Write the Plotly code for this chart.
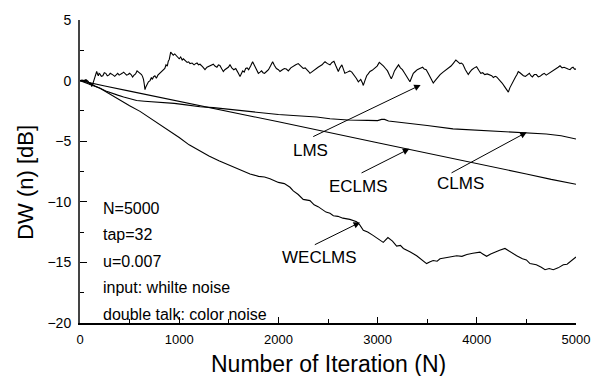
import plotly.graph_objects as go

# ---------------- data ----------------
lms_pts = [
    (0, 0.0), (20, 0.05), (40, 0.0), (60, 0.08), (80, -0.05), (100, -0.3), (110, -0.2), (118, -0.5), (130, -0.25), (140, 0.0),
    (155, 0.35), (168, 0.75), (178, 0.5), (185, 0.4), (192, 0.6), (200, 0.55), (215, 0.35), (230, 0.4), (245, 0.65), (260, 0.6),
    (275, 0.4), (290, 0.45), (305, 0.6), (320, 0.55), (335, 0.45), (350, 0.35), (365, 0.5), (380, 0.6), (395, 0.45), (410, 0.5),
    (425, 0.6), (440, 0.7), (455, 0.55), (470, 0.45), (485, 0.5), (500, 0.6), (515, 0.5), (530, 0.3), (545, 0.45), (560, 0.55),
    (575, 0.8), (590, 0.7), (605, 0.6), (620, 0.5), (630, 0.35), (640, 0.1), (648, -0.3), (655, -0.75), (665, -0.5), (675, -0.3),
    (690, -0.1), (706, 0.0), (720, 0.25), (730, 0.1), (740, 0.3), (755, 0.4), (770, 0.2), (785, 0.45), (806, 0.6), (820, 0.7),
    (840, 0.9), (855, 1.0), (867, 1.3), (880, 1.2), (890, 1.6), (900, 1.75), (914, 2.35), (925, 2.25), (940, 2.1), (955, 2.2),
    (974, 2.0), (988, 1.85), (1000, 1.8), (1015, 1.95), (1030, 1.7), (1042, 1.8), (1060, 1.65), (1080, 1.5), (1095, 1.55), (1109, 1.4),
    (1130, 1.45), (1150, 1.3), (1165, 1.4), (1180, 1.45), (1195, 1.3), (1210, 1.35), (1235, 1.15), (1260, 0.9), (1280, 1.1), (1300, 1.2),
    (1320, 1.3), (1344, 1.35), (1360, 1.2), (1380, 1.1), (1395, 1.3), (1410, 1.25), (1430, 0.95), (1445, 0.75), (1460, 0.9), (1480, 1.0),
    (1495, 1.1), (1512, 1.3), (1530, 1.05), (1550, 0.9), (1570, 1.0), (1590, 0.7), (1600, 0.5), (1613, 0.33), (1625, 0.55), (1640, 0.8),
    (1655, 0.7), (1670, 1.0), (1685, 1.05), (1700, 0.9), (1720, 1.2), (1740, 1.55), (1755, 1.3), (1770, 1.0), (1785, 0.8), (1798, 0.6),
    (1815, 0.7), (1830, 0.8), (1845, 0.65), (1860, 0.6), (1880, 0.75), (1900, 0.9), (1920, 1.2), (1942, 1.55), (1960, 1.25), (1980, 1.0),
    (2000, 0.9), (2016, 0.75), (2040, 0.9), (2060, 1.0), (2080, 0.95), (2100, 0.8), (2125, 1.05), (2150, 1.2), (2175, 1.3), (2200, 1.4),
    (2225, 1.2), (2250, 1.0), (2270, 1.05), (2290, 0.9), (2305, 0.75), (2318, 0.6), (2340, 0.75), (2360, 0.9), (2380, 1.0), (2400, 1.1),
    (2420, 1.2), (2440, 1.3), (2455, 1.45), (2470, 1.55), (2495, 1.4), (2520, 1.3), (2540, 1.5), (2560, 1.6), (2580, 1.2), (2604, 0.75),
    (2620, 1.05), (2640, 1.3), (2655, 0.95), (2670, 0.6), (2695, 0.7), (2720, 0.8), (2740, 0.7), (2760, 0.5), (2785, 0.2), (2806, -0.1),
    (2818, 0.05), (2830, 0.1), (2845, -0.15), (2856, -0.4), (2872, 0.0), (2890, 0.4), (2905, 0.55), (2923, 0.75), (2945, 0.85), (2970, 1.0),
    (2995, 1.2), (3017, 1.5), (3040, 1.35), (3060, 1.2), (3080, 1.0), (3100, 0.8), (3120, 0.45), (3138, 0.15), (3155, 0.45), (3170, 0.8),
    (3190, 1.05), (3211, 1.3), (3230, 1.05), (3250, 0.9), (3270, 0.65), (3290, 0.4), (3310, 0.1), (3326, -0.1), (3345, 0.3), (3360, 0.6),
    (3380, 0.75), (3400, 0.9), (3425, 1.0), (3454, 1.1), (3470, 0.95), (3490, 0.9), (3510, 0.6), (3530, 0.3), (3545, 0.0), (3561, -0.2),
    (3580, 0.0), (3600, 0.2), (3615, 0.4), (3630, 0.5), (3660, 0.7), (3695, 0.9), (3715, 1.0), (3740, 1.2), (3765, 1.45), (3789, 1.7),
    (3810, 1.55), (3830, 1.4), (3845, 1.45), (3860, 1.35), (3885, 0.9), (3914, 0.5), (3930, 0.7), (3950, 0.9), (3975, 1.05), (3998, 1.15),
    (4020, 0.85), (4040, 0.6), (4060, 0.65), (4080, 0.5), (4105, 0.55), (4130, 0.45), (4150, 0.4), (4167, 0.25), (4185, 0.35), (4200, 0.3),
    (4218, 0.15), (4234, 0.0), (4255, -0.2), (4280, -0.5), (4300, -0.7), (4318, -0.95), (4333, -0.6), (4350, -0.3), (4370, 0.0), (4390, 0.3),
    (4405, 0.5), (4418, 0.75), (4435, 0.65), (4450, 0.55), (4470, 0.4), (4490, 0.35), (4510, 0.5), (4530, 0.6), (4545, 0.4), (4560, 0.3),
    (4580, 0.5), (4600, 0.5), (4620, 0.3), (4637, 0.35), (4660, 0.5), (4680, 0.6), (4700, 0.45), (4720, 0.55), (4740, 0.65), (4760, 0.75),
    (4780, 0.85), (4800, 1.0), (4820, 1.1), (4839, 1.22), (4860, 1.05), (4880, 1.1), (4900, 1.0), (4920, 0.95), (4940, 0.9), (4955, 1.05),
    (4970, 1.1), (4985, 0.95), (5000, 0.95),
]
lms_x = [p[0] for p in lms_pts]
lms_y = [p[1] for p in lms_pts]

clms_x = [0, 50, 100, 150, 202, 260, 320, 380, 440, 504, 571, 650, 750, 850, 950, 1050, 1150, 1210, 1344, 1500,
          1714, 1882, 2000, 2150, 2386, 2520, 2700, 2900, 3000, 3040, 3070, 3110, 3300, 3500, 3760, 4000, 4250, 4466, 4700, 4850, 5000]
clms_y = [0.0, -0.15, -0.35, -0.5, -0.64, -0.85, -1.05, -1.2, -1.35, -1.47, -1.64, -1.7, -1.75, -1.8, -1.88, -1.98, -2.08, -2.16, -2.23, -2.38,
          -2.55, -2.72, -2.8, -2.88, -3.0, -3.15, -3.25, -3.28, -3.3, -3.2, -3.2, -3.33, -3.5, -3.7, -3.98, -4.1, -4.2, -4.3, -4.4, -4.55, -4.82]

eclms_x = [0, 100, 250, 500, 750, 1000, 1250, 1500, 1750, 2000, 2250, 2500, 2750, 3000, 3250, 3500, 3750, 4000, 4250, 4500, 4750, 5000]
eclms_y = [0.0, -0.2, -0.45, -0.87, -1.28, -1.72, -2.15, -2.57, -2.98, -3.4, -3.85, -4.27, -4.7, -5.13, -5.55, -5.98, -6.42, -6.86, -7.26, -7.7, -8.15, -8.55]

weclms_x = [0, 60, 100, 150, 202, 300, 400, 500, 605, 700, 800, 900, 1000, 1100, 1210, 1300, 1400, 1512, 1600, 1714,
            1800, 1860, 1915, 2000, 2060, 2117, 2150, 2200, 2250, 2318, 2360, 2400, 2480, 2520, 2554, 2600, 2650, 2720, 2789, 2820,
            2856, 2900, 2950, 3000, 3057, 3104, 3150, 3192, 3230, 3260, 3300, 3330, 3394, 3450, 3494, 3530, 3560, 3600, 3629, 3700,
            3750, 3797, 3850, 3900, 3960, 4032, 4060, 4099, 4140, 4180, 4230, 4284, 4340, 4402, 4460, 4500, 4536, 4600, 4650, 4688,
            4730, 4771, 4820, 4872, 4910, 4940, 5000]
weclms_y = [0.0, -0.05, -0.2, -0.45, -0.63, -1.1, -1.63, -2.08, -2.54, -3.06, -3.56, -4.15, -4.7, -5.3, -5.83, -6.22, -6.62, -7.02, -7.3, -7.7,
            -7.9, -7.95, -8.1, -8.4, -8.5, -8.8, -9.1, -9.4, -9.8, -9.9, -10.25, -10.4, -10.85, -10.95, -11.15, -11.2, -11.35, -11.45, -11.65, -11.9,
            -12.35, -12.5, -12.75, -13.05, -13.35, -12.95, -13.25, -13.65, -13.6, -13.85, -14.0, -14.15, -14.45, -14.8, -15.1, -14.95, -14.85, -14.9, -14.7, -14.6,
            -14.5, -14.45, -14.5, -14.35, -14.25, -14.15, -14.3, -14.5, -14.3, -14.15, -14.0, -13.85, -14.15, -14.45, -14.7, -14.8, -15.1, -15.2, -15.4, -15.6,
            -15.5, -15.6, -15.45, -15.2, -15.15, -14.95, -14.55]

x_ticks = [0, 1000, 2000, 3000, 4000, 5000]
y_ticks = [5, 0, -5, -10, -15, -20]

info_lines = ["N=5000", "tap=32", "u=0.007", "input: whilte noise", "double talk: color noise"]
info_y = [-10.57, -12.7, -14.9, -17.07, -19.3]

labels = ["LMS", "ECLMS", "CLMS", "WECLMS"]
label_pos = [(2319, -5.8), (2812, -8.7), (3831, -8.5), (2412, -14.6)]
arrow_tail = [(2336, -4.68), (2823, -7.68), (3730, -7.68), (2352, -13.6)]
arrow_head = [(3434, -0.36), (3320, -5.63), (4503, -4.26), (2823, -11.7)]

# ---------------- figure ----------------
FONT = "Liberation Sans, Arial, sans-serif"
fig = go.Figure()
line = dict(color="black", width=1.1)
for xs, ys in [(lms_x, lms_y), (clms_x, clms_y), (eclms_x, eclms_y), (weclms_x, weclms_y)]:
    fig.add_trace(go.Scatter(x=xs, y=ys, mode="lines", line=line, showlegend=False, hoverinfo="skip"))

ann = []
for t, yy in zip(info_lines, info_y):
    ann.append(dict(x=209, y=yy, xref="x", yref="y", text=t, showarrow=False, xanchor="left", yanchor="middle",
                    font=dict(family=FONT, size=16, color="black")))
for t, (lx, ly) in zip(labels, label_pos):
    ann.append(dict(x=lx, y=ly, xref="x", yref="y", text=t, showarrow=False, xanchor="center", yanchor="middle",
                    font=dict(family=FONT, size=17, color="black")))
for (tx, ty), (hx, hy) in zip(arrow_tail, arrow_head):
    ann.append(dict(x=hx, y=hy, ax=tx, ay=ty, xref="x", yref="y", axref="x", ayref="y", text="",
                    showarrow=True, arrowhead=2, arrowsize=1.3, arrowwidth=1, arrowcolor="black", standoff=0, startstandoff=0))
ann.append(dict(x=0.5, y=-0.135, xref="paper", yref="paper", text="Number of Iteration (N)", showarrow=False,
                xanchor="center", yanchor="middle", font=dict(family=FONT, size=23, color="black")))
ann.append(dict(x=-0.109, y=0.4656, xref="paper", yref="paper", text="DW (n) [dB]", showarrow=False, textangle=-90,
                xanchor="center", yanchor="middle", font=dict(family=FONT, size=22, color="black")))

fig.update_layout(
    width=602, height=376,
    margin=dict(l=80, r=25, t=18, b=53),
    paper_bgcolor="white", plot_bgcolor="white",
    annotations=ann,
    font=dict(family=FONT, color="black"),
)
fig.update_xaxes(range=[0, 5000], tickvals=x_ticks, ticks="inside", ticklen=6, tickcolor="black", tickwidth=1,
                 showline=True, linecolor="black", linewidth=1.5, showgrid=False, zeroline=False,
                 tickfont=dict(family=FONT, size=13, color="black"), ticklabelstandoff=4,
                 minor=dict(dtick=500, tick0=0, ticks="inside", ticklen=4, tickcolor="black", tickwidth=1, showgrid=False))
fig.update_yaxes(range=[-20, 5], tickvals=y_ticks, ticks="inside", ticklen=7, tickcolor="black", tickwidth=1,
                 showline=True, linecolor="#444444", linewidth=2, showgrid=False, zeroline=False,
                 tickfont=dict(family=FONT, size=14, color="black"), ticklabelstandoff=4,
                 minor=dict(dtick=2.5, tick0=0, ticks="inside", ticklen=4, tickcolor="black", tickwidth=1, showgrid=False))

fig.write_html("out.html", config={"displayModeBar": False},
               post_script="document.body.style.margin='0';document.body.style.overflow='hidden';")
